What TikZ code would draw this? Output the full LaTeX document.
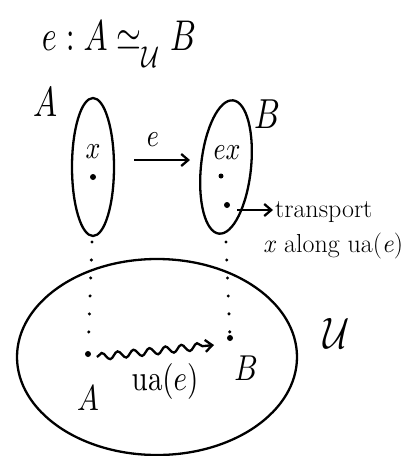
\documentclass[tikz,border=0pt]{standalone}
\usepackage{graphicx}
\usetikzlibrary{shapes.geometric,arrows.meta,decorations.pathmorphing}
\newcommand{\mytitlemath}[1]{\scalebox{3.2}[4.3]{$#1$}}
\newcommand{\mybigmath}[1]{\scalebox{3.2}[4.2]{$#1$}}
\newcommand{\mymidmath}[1]{\scalebox{2.9}[3.6]{$#1$}}
\newcommand{\mysmallmath}[1]{\scalebox{2.6}[3.2]{$#1$}}
\begin{document}
\begin{tikzpicture}[x=1pt,y=-1pt,line width=2.3pt,
  setshape/.style={ellipse,draw,inner sep=0pt},
  dot/.style={circle,fill,inner sep=0pt,minimum size=6pt},
  dotline/.style={line width=3.4pt,line cap=round,dash pattern=on 0pt off 18pt},
  arr/.style={-{Straight Barb[length=7pt,width=12pt]}},
  small/.style={font=\fontsize{26}{30}\selectfont},
  lab/.style={inner sep=0pt}]
\useasboundingbox (0,0) rectangle (411,456);
% title
\node[lab] (title) at (119,44) {\mytitlemath{e : A \simeq_{\lower2.5pt\hbox{$\scriptstyle\mathcal U$}} B}};
% sets
\node[setshape,minimum width=42pt,minimum height=138pt] (setA) at (93,167) {};
\node[setshape,minimum width=50pt,minimum height=134pt,rotate=-6] (setB) at (226,167) {};
\node[lab] (labA) at (45,102) {\mybigmath{A}};
\node[lab] (labB) at (267,114) {\mybigmath{B}};
% points
\node[lab] (x) at (93,152) {\mysmallmath{x}};
\node[dot] (px) at (93,177) {};
\node[lab] (ex) at (227,153) {\mysmallmath{ex}};
\node[dot,minimum size=5pt] (pex) at (221,176) {};
\node[dot] (pt) at (227,205) {};
% e arrow
\coordinate (e0) at (134,160);
\coordinate (e1) at (190,160);
\draw[arr] (e0) -- (e1);
\node[lab] (elab) at (153,140) {\mysmallmath{e}};
% transport
\coordinate (t0) at (237,210);
\coordinate (t1) at (273,210);
\draw[arr] (t0) -- (t1);
\node[lab,small,anchor=base west] (tr) at (274,217) {transport};
\node[lab,small,anchor=base west] (al) at (262,252) {\textit{x} along ua(\textit{e})};
% universe
\node[setshape,minimum width=280pt,minimum height=196pt] (U) at (157,357) {};
\node[lab] (labU) at (337,333) {\scalebox{3.6}[4.4]{$\mathcal{U}$}};
\node[dot] (uA) at (88,354) {};
\node[dot] (uB) at (230,338) {};
\coordinate (dA) at (92,242);
\coordinate (dB) at (226,242);
\draw[dotline] (dA) -- (uA);
\draw[dotline] (dB) -- (uB);
\node[lab] (lA) at (88,398) {\mymidmath{A}};
\node[lab] (lB) at (246,368) {\mymidmath{B}};
% ua(e) path
\coordinate (w0) at (97,357);
\coordinate (w1) at (214,345);
\draw[arr,decorate,decoration={snake,amplitude=3.5pt,segment length=16pt,post length=10pt}] (w0) -- (w1);
\node[lab] (ua) at (165,381) {\mymidmath{\mathrm{ua}(e)}};
\end{tikzpicture}
\end{document}
